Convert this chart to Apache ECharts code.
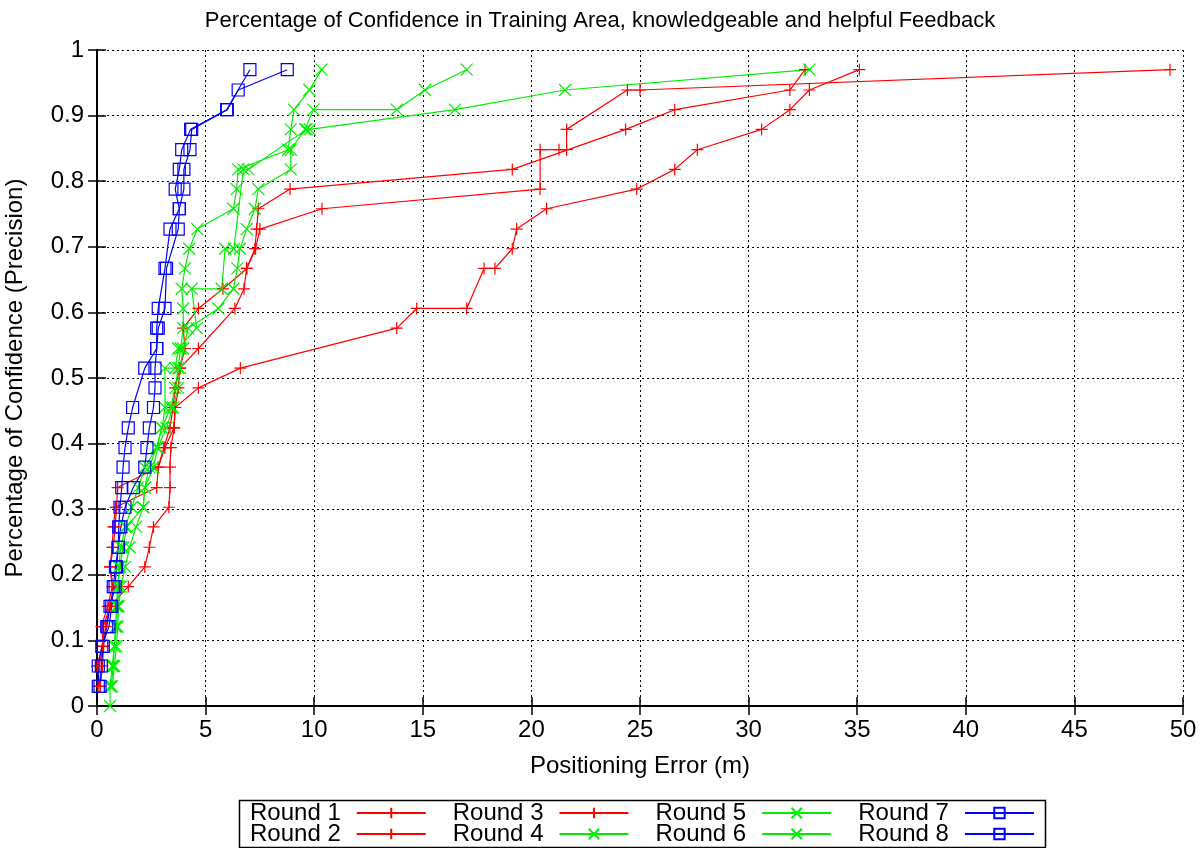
<!DOCTYPE html>
<html><head><meta charset="utf-8">
<script src="https://cdn.jsdelivr.net/npm/echarts@6/dist/echarts.min.js"></script>
<style>html,body{margin:0;padding:0;background:#fff}#c{width:1200px;height:848px}</style>
</head><body><div id="c"></div>
<script>
const titleText = 'Percentage of Confidence in Training Area, knowledgeable and helpful Feedback';
const xName = 'Positioning Error (m)';
const yName = 'Percentage of Confidence (Precision)';
const seriesNames = ['Round 1','Round 2','Round 3','Round 4','Round 5','Round 6','Round 7','Round 8'];

const round1 = [[0.15,0.03],[0.0,0.061],[0.25,0.091],[0.4,0.121],[0.6,0.152],[0.75,0.182],[0.6,0.212],[0.7,0.242],[0.75,0.273],[0.85,0.303],[2.75,0.333],[2.82,0.364],[3.13,0.394],[3.55,0.424],[3.6,0.455],[3.75,0.485],[3.82,0.515],[4.05,0.545],[3.97,0.576],[4.67,0.606],[5.8,0.636],[6.9,0.667],[7.3,0.697],[7.5,0.727],[10.36,0.758],[20.4,0.788],[20.4,0.848],[21.27,0.848],[21.62,0.848],[21.62,0.879],[24.42,0.939],[25.0,0.939],[49.4,0.97]];
const round2 = [[0.05,0.03],[0.1,0.061],[0.3,0.091],[0.2,0.121],[0.5,0.152],[0.7,0.182],[0.6,0.212],[0.75,0.242],[0.83,0.273],[0.9,0.303],[0.95,0.333],[2.82,0.364],[3.08,0.394],[3.36,0.424],[3.5,0.455],[3.6,0.485],[3.82,0.515],[4.67,0.545],[6.35,0.606],[6.77,0.636],[6.89,0.667],[7.27,0.697],[7.35,0.727],[7.43,0.758],[8.89,0.788],[19.12,0.818],[24.34,0.879],[26.6,0.909],[31.9,0.939],[32.6,0.97]];
const round3 = [[0.15,0.03],[0.25,0.061],[0.3,0.091],[0.29,0.121],[0.6,0.152],[1.44,0.182],[2.2,0.212],[2.41,0.242],[2.6,0.273],[3.31,0.303],[3.36,0.333],[3.36,0.364],[3.4,0.394],[3.55,0.424],[3.6,0.455],[4.67,0.485],[6.6,0.515],[13.8,0.576],[14.72,0.606],[17.02,0.606],[17.82,0.667],[18.32,0.667],[19.12,0.697],[19.32,0.727],[20.7,0.758],[24.85,0.788],[26.6,0.818],[27.64,0.848],[30.6,0.879],[31.9,0.909],[32.8,0.939],[35.1,0.97]];
const round4 = [[0.6,0.0],[0.6,0.03],[0.7,0.061],[0.8,0.091],[0.9,0.121],[0.95,0.152],[1.0,0.182],[1.0,0.212],[1.1,0.242],[1.3,0.273],[1.6,0.303],[1.9,0.333],[2.2,0.364],[2.75,0.394],[2.98,0.424],[3.4,0.455],[3.6,0.485],[3.74,0.515],[3.85,0.545],[3.97,0.576],[3.97,0.606],[3.9,0.636],[4.05,0.667],[4.25,0.697],[4.62,0.727],[6.28,0.758],[6.43,0.788],[6.5,0.818],[8.8,0.848],[8.92,0.879],[9.07,0.909],[9.78,0.939],[10.34,0.97]];
const round5 = [[0.65,0.03],[0.75,0.061],[0.8,0.091],[0.85,0.121],[0.9,0.152],[0.95,0.182],[1.05,0.212],[1.2,0.242],[1.37,0.273],[2.13,0.303],[2.2,0.333],[2.6,0.364],[2.8,0.394],[3.2,0.424],[3.5,0.455],[3.74,0.485],[3.82,0.515],[3.97,0.545],[4.2,0.576],[5.59,0.606],[6.28,0.636],[6.46,0.667],[6.58,0.697],[6.89,0.727],[7.27,0.758],[7.43,0.788],[8.92,0.818],[8.92,0.848],[9.58,0.879],[9.96,0.909],[13.8,0.909],[15.1,0.939],[17.02,0.97]];
const round6 = [[0.7,0.03],[0.8,0.061],[0.9,0.091],[0.95,0.121],[1.0,0.152],[1.1,0.182],[1.3,0.212],[1.5,0.242],[1.8,0.273],[2.13,0.303],[2.2,0.333],[2.4,0.364],[2.75,0.394],[3.0,0.424],[3.13,0.455],[3.13,0.515],[3.6,0.515],[3.74,0.545],[4.59,0.576],[4.36,0.636],[5.74,0.636],[5.9,0.697],[6.3,0.697],[6.74,0.818],[6.97,0.818],[9.65,0.879],[9.8,0.879],[16.48,0.909],[21.55,0.939],[32.8,0.97]];
const round7 = [[0.14,0.03],[0.2,0.061],[0.29,0.091],[0.45,0.121],[0.6,0.152],[0.83,0.182],[0.9,0.212],[0.98,0.242],[1.0,0.273],[1.06,0.303],[1.14,0.333],[1.2,0.364],[1.29,0.394],[1.44,0.424],[1.64,0.455],[2.2,0.515],[2.75,0.545],[2.75,0.576],[2.82,0.606],[3.13,0.667],[3.36,0.727],[3.79,0.758],[3.6,0.788],[3.79,0.818],[3.9,0.848],[4.31,0.879],[5.97,0.909],[7.04,0.97]];
const round8 = [[0.06,0.03],[0.06,0.061],[0.22,0.091],[0.55,0.121],[0.68,0.152],[0.75,0.182],[0.85,0.212],[0.98,0.242],[1.1,0.273],[1.29,0.303],[1.67,0.333],[2.2,0.364],[2.3,0.394],[2.41,0.424],[2.6,0.455],[2.67,0.485],[2.67,0.515],[2.75,0.545],[2.82,0.576],[3.13,0.606],[3.2,0.667],[3.74,0.727],[3.79,0.758],[4.0,0.788],[4.0,0.818],[4.28,0.848],[4.36,0.879],[6.0,0.909],[6.5,0.939],[8.76,0.97]];

const RED = '#ff0000', GREEN = '#00ee00', BLUE = '#0000ff';
const PLUS = 'path://M0,5L10,5M5,0L5,10';
const CROSS = 'path://M0,0L10,10M10,0L0,10';
const FONT = 'Liberation Sans, Arial, Helvetica, sans-serif';

function mk(name, data, color, symbol) {
  const hollow = symbol === 'rect';
  return {
    name, type: 'line', data, symbol, symbolSize: 12,
    showSymbol: true, clip: true,
    lineStyle: { color, width: 1.2 },
    itemStyle: { color: hollow ? 'rgba(0,0,0,0)' : color, borderColor: color, borderWidth: 1.2 },
    emphasis: { disabled: true }, animation: false
  };
}

const series = [
  mk(seriesNames[0], round1, RED, PLUS),
  mk(seriesNames[1], round2, RED, PLUS),
  mk(seriesNames[2], round3, RED, PLUS),
  mk(seriesNames[3], round4, GREEN, CROSS),
  mk(seriesNames[4], round5, GREEN, CROSS),
  mk(seriesNames[5], round6, GREEN, CROSS),
  mk(seriesNames[6], round7, BLUE, 'rect'),
  mk(seriesNames[7], round8, BLUE, 'rect')
];

const axisLine = { show: true, lineStyle: { color: '#000', width: 2 } };
const tick = { show: true, inside: true, length: 9, lineStyle: { color: '#000', width: 1.5 } };
const split = { show: true, lineStyle: { color: '#000', width: 1, type: [2, 3] } };
const lblStyle = { color: '#000', fontSize: 24, fontFamily: FONT };

const legendCommon = {
  orient: 'horizontal', align: 'right', itemWidth: 69, itemHeight: 13, itemGap: 26, padding: 0,
  textStyle: { color: '#000', fontSize: 24, fontFamily: FONT, padding: [0, 11, 0, 0] },
  selectedMode: false
};

const chart = echarts.init(document.getElementById('c'), null, { renderer: 'canvas' });
chart.setOption({
  animation: false,
  backgroundColor: '#fff',
  title: { text: titleText, left: 'center', top: 5, textStyle: { fontSize: 22, fontWeight: 'normal', color: '#000', fontFamily: FONT } },
  grid: { left: 97, right: 17, top: 50, bottom: 142, containLabel: false, outerBoundsMode: 'none' },
  xAxis: [
    { type: 'value', min: 0, max: 50, interval: 5, position: 'bottom',
      name: xName, nameLocation: 'middle', nameGap: 48, nameTextStyle: lblStyle,
      axisLine, axisTick: tick, axisLabel: Object.assign({ margin: 12 }, lblStyle), splitLine: split },
    { type: 'value', min: 0, max: 50, interval: 5, position: 'top',
      axisLine, axisTick: tick, axisLabel: { show: false }, splitLine: { show: false } }
  ],
  yAxis: [
    { type: 'value', min: 0, max: 1, interval: 0.1, position: 'left',
      name: yName, nameLocation: 'middle', nameGap: 70, nameRotate: 90, nameTextStyle: lblStyle,
      axisLine, axisTick: tick, axisLabel: Object.assign({ margin: 13 }, lblStyle), splitLine: split },
    { type: 'value', min: 0, max: 1, interval: 0.1, position: 'right',
      axisLine, axisTick: tick, axisLabel: { show: false }, splitLine: { show: false } }
  ],
  legend: [
    Object.assign({ data: [seriesNames[0], seriesNames[2], seriesNames[4], seriesNames[6]], left: 250, top: 801 }, legendCommon),
    Object.assign({ data: [seriesNames[1], seriesNames[3], seriesNames[5], seriesNames[7]], left: 250, top: 822 }, legendCommon)
  ],
  graphic: [{ type: 'rect', left: 237, top: 798, shape: { width: 806, height: 47 }, style: { fill: 'none', stroke: '#000', lineWidth: 1.5 }, silent: true }],
  series
});
</script></body></html>
